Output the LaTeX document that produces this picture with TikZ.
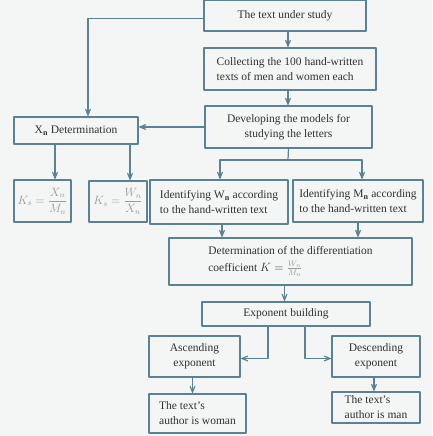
\documentclass[tikz,border=0pt]{standalone}
\usepackage{amsmath}
\usepackage{fontspec}
\setmainfont{Liberation Serif}
\usepackage{tikz}
\usetikzlibrary{arrows}
\definecolor{framecol}{RGB}{92,128,148}
\definecolor{textcol}{RGB}{45,50,52}
\definecolor{paper}{RGB}{244,245,245}
\definecolor{faint}{RGB}{150,155,158}

\begin{document}
\begin{tikzpicture}[line cap=round,line join=round,>=angle 45,x=1pt,y=-1pt,
  box/.style={draw=framecol,line width=1.1pt,inner sep=2pt,align=center,text=textcol,
    font=\fontsize{11.5}{15}\selectfont},
  flow/.style={->,draw=framecol,line width=1.2pt}]
\fill[paper] (0,0) rectangle (432,436);
\useasboundingbox (0,0) rectangle (432,436);

\node[box,minimum width=162pt,minimum height=31pt] (text) at (285,15.5) {The text under study};
\node[box,minimum width=172pt,minimum height=42pt,align=left] (collect) at (290,69) {Collecting the 100 hand-written\\texts of men and women each};
\node[box,minimum width=167pt,minimum height=42pt] (develop) at (288.5,127) {Developing the models for\\studying the letters};
\node[box,minimum width=124pt,minimum height=27pt] (xn) at (76,130.5) {X$_{\mathbf{n}}$ Determination};
\node[box,minimum width=57pt,minimum height=42pt,text=faint] (kone) at (42.5,201) {$K_s=\dfrac{X_n}{M_n}$};
\node[box,minimum width=58pt,minimum height=41pt,text=faint] (ktwo) at (118,201.5) {$K_s=\dfrac{W_n}{X_n}$};
\node[box,minimum width=138pt,minimum height=44pt,align=left] (wid) at (219,202) {Identifying W$_{\mathbf{n}}$ according\\to the hand-written text};
\node[box,minimum width=130pt,minimum height=42pt,align=left] (mid) at (358,201) {Identifying M$_{\mathbf{n}}$ according\\to the hand-written text};
\node[box,minimum width=243pt,minimum height=47pt,align=left] (coef) at (290.5,261.5) {Determination of the differentiation\\[2pt]coefficient $K={\color{faint}\frac{W_n}{M_n}}$};
\node[box,minimum width=168pt,minimum height=24pt] (expo) at (286,314) {Exponent building};
\node[box,minimum width=91pt,minimum height=41pt] (asc) at (194.5,356.5) {Ascending\\exponent};
\node[box,minimum width=88pt,minimum height=41pt] (desc) at (376,356.5) {Descending\\exponent};
\node[box,minimum width=97pt,minimum height=39pt,align=left] (woman) at (197.5,413.5) {The text's\\author is woman};
\node[box,minimum width=88pt,minimum height=31pt,align=left] (man) at (376,407.5) {The text's\\author is man};
\coordinate (split) at (288,160);

\draw[flow] ([yshift=-3pt]text.west) -| ([xshift=12pt]xn.north);
\draw[flow] ([xshift=3pt]text.south) -- ([xshift=3pt]text.south |- collect.north);
\draw[flow] ([xshift=-2pt]collect.south) -- ([xshift=-2pt]collect.south |- develop.north);
\draw[flow] (develop.west) -- (develop.west -| xn.east);
\draw[flow] ([xshift=-21pt]xn.south) -- ([xshift=-21pt]xn.south |- kone.north);
\draw[flow] ([xshift=54pt]xn.south) -- ([xshift=54pt]xn.south |- ktwo.north);
\draw[framecol,line width=1.2pt] (develop.south) -- (split);
\draw[flow] (split) -| ([xshift=1pt]wid.north);
\draw[flow] (split) -| ([xshift=4pt]mid.north);
\draw[flow] ([xshift=3pt]wid.south) -- ([xshift=3pt]wid.south |- coef.north);
\draw[flow] (mid.south) -- (mid.south |- coef.north);
\draw[flow] ([xshift=-6pt]coef.south) -- ([xshift=-6pt]coef.south |- expo.north);
\draw[flow] ([xshift=-18pt]expo.south) |- ([yshift=-2pt]asc.east);
\draw[flow] ([xshift=19pt]expo.south) |- ([yshift=-2pt]desc.west);
\draw[flow] ([xshift=-2pt]asc.south) -- ([xshift=-2pt]asc.south |- woman.north);
\draw[flow] ([xshift=-2pt]desc.south) -- ([xshift=-2pt]desc.south |- man.north);
\end{tikzpicture}
\end{document}
